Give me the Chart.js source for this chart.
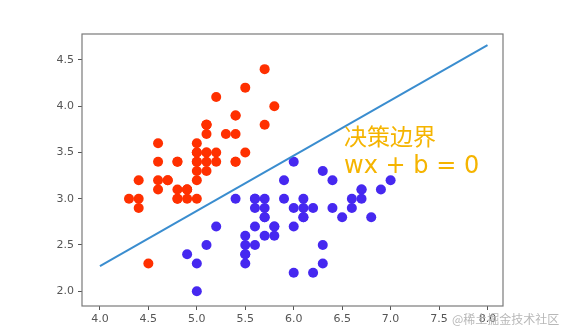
<!DOCTYPE html>
<html>
<head>
<meta charset="utf-8">
<script src="https://cdn.jsdelivr.net/npm/chart.js@4.4.0/dist/chart.umd.min.js"></script>
<style>
  html, body { margin: 0; padding: 0; background: #fff; }
  #wrap { width: 570px; height: 335px; position: relative; }
</style>
</head>
<body>
<div id="wrap"><canvas id="scatterChart"></canvas></div>
<script>
// setosa (red) - sepal length / sepal width
var redX = [5.1, 4.9, 4.7, 4.6, 5.0, 5.4, 4.6, 5.0, 4.4, 4.9, 5.4, 4.8, 4.8, 4.3, 5.8, 5.7, 5.4, 5.1, 5.7, 5.1,
  5.4, 5.1, 4.6, 5.1, 4.8, 5.0, 5.0, 5.2, 5.2, 4.7, 4.8, 5.4, 5.2, 5.5, 4.9, 5.0, 5.5, 4.9, 4.4, 5.1,
  5.0, 4.5, 4.4, 5.0, 5.1, 4.8, 5.1, 4.6, 5.3, 5.0];
var redY = [3.5, 3.0, 3.2, 3.1, 3.6, 3.9, 3.4, 3.4, 2.9, 3.1, 3.7, 3.4, 3.0, 3.0, 4.0, 4.4, 3.9, 3.5, 3.8, 3.8,
  3.4, 3.7, 3.6, 3.3, 3.4, 3.0, 3.4, 3.5, 3.4, 3.2, 3.1, 3.4, 4.1, 4.2, 3.1, 3.2, 3.5, 3.1, 3.0, 3.4,
  3.5, 2.3, 3.2, 3.5, 3.8, 3.0, 3.8, 3.2, 3.7, 3.3];

// versicolor (blue)
var blueX = [7.0, 6.4, 6.9, 5.5, 6.5, 5.7, 6.3, 4.9, 6.6, 5.2, 5.0, 5.9, 6.0, 6.1, 5.6, 6.7, 5.6, 5.8, 6.2, 5.6,
  5.9, 6.1, 6.3, 6.1, 6.4, 6.6, 6.8, 6.7, 6.0, 5.7, 5.5, 5.5, 5.8, 6.0, 5.4, 6.0, 6.7, 6.3, 5.6, 5.5,
  5.5, 6.1, 5.8, 5.0, 5.6, 5.7, 5.7, 6.2, 5.1, 5.7];
var blueY = [3.2, 3.2, 3.1, 2.3, 2.8, 2.8, 3.3, 2.4, 2.9, 2.7, 2.0, 3.0, 2.2, 2.9, 2.9, 3.1, 3.0, 2.7, 2.2, 2.5,
  3.2, 2.8, 2.5, 2.8, 2.9, 3.0, 2.8, 3.0, 2.9, 2.6, 2.4, 2.4, 2.7, 2.7, 3.0, 3.4, 3.1, 2.3, 3.0, 2.5,
  2.6, 3.0, 2.6, 2.3, 2.7, 3.0, 2.9, 2.9, 2.5, 2.8];

// decision boundary end points
var lineX = [4.0, 8.0];
var lineY = [2.27, 4.66];

var xTicks = [4.0, 4.5, 5.0, 5.5, 6.0, 6.5, 7.0, 7.5, 8.0];
var yTicks = [2.0, 2.5, 3.0, 3.5, 4.0, 4.5];

function toPoints(xs, ys) {
  return xs.map(function (x, i) { return { x: x, y: ys[i] }; });
}

// frame + annotation text
var extras = {
  id: "extras",
  afterDraw: function (chart) {
    var ctx = chart.ctx;
    var a = chart.chartArea;
    ctx.save();
    ctx.strokeStyle = "#7a7a7a";
    ctx.lineWidth = 1.2;
    ctx.strokeRect(a.left, a.top, a.right - a.left, a.bottom - a.top);

    var xs = chart.scales.x, ys = chart.scales.y;
    var tx = xs.getPixelForValue(6.52);
    ctx.fillStyle = "#f5b400";
    ctx.textBaseline = "middle";
    ctx.font = '23px "Noto Sans CJK SC"';
    ctx.fillText("决策边界", tx, ys.getPixelForValue(3.67));
    ctx.font = '24px "DejaVu Sans"';
    ctx.fillText("wx + b = 0", tx, ys.getPixelForValue(3.35));

    ctx.fillStyle = "#b8b8b8";
    ctx.font = '12px "Noto Sans CJK SC"';
    ctx.fillText("@稀土掘金技术社区", 452, 319);
    ctx.restore();
  }
};

new Chart(document.getElementById("scatterChart"), {
  type: "scatter",
  data: {
    datasets: [
      {
        label: "boundary",
        type: "line",
        data: toPoints(lineX, lineY),
        borderColor: "#3a8dcf",
        borderWidth: 2,
        pointRadius: 0,
        fill: false,
      },
      {
        label: "setosa",
        data: toPoints(redX, redY),
        backgroundColor: "#ff3000",
        borderWidth: 0,
        pointRadius: 5,
      },
      {
        label: "versicolor",
        data: toPoints(blueX, blueY),
        backgroundColor: "#4628f0",
        borderWidth: 0,
        pointRadius: 5,
      },
    ],
  },
  options: {
    responsive: true,
    maintainAspectRatio: false,
    animation: false,
    layout: {
      padding: { left: 0, right: 67, top: 34, bottom: 0 },
    },
    plugins: {
      legend: { display: false },
      tooltip: { enabled: false },
    },
    scales: {
      x: {
        type: "linear",
        min: 3.815,
        max: 8.16,
        afterBuildTicks: function (scale) {
          scale.ticks = xTicks.map(function (v) { return { value: v }; });
        },
        afterFit: function (scale) { scale.height = 29; },
        grid: { drawOnChartArea: false, drawTicks: true, tickLength: 4, color: "#555" },
        border: { display: false },
        ticks: {
          color: "#555",
          font: { family: "DejaVu Sans", size: 11 },
          padding: 3,
          maxRotation: 0,
          callback: function (v) { return v.toFixed(1); },
        },
      },
      y: {
        type: "linear",
        min: 1.84,
        max: 4.78,
        afterBuildTicks: function (scale) {
          scale.ticks = yTicks.map(function (v) { return { value: v }; });
        },
        afterFit: function (scale) { scale.width = 82; },
        grid: { drawOnChartArea: false, drawTicks: true, tickLength: 4, color: "#555" },
        border: { display: false },
        ticks: {
          color: "#555",
          font: { family: "DejaVu Sans", size: 11 },
          padding: 4,
          callback: function (v) { return v.toFixed(1); },
        },
      },
    },
  },
  plugins: [extras],
});
</script>
</body>
</html>
